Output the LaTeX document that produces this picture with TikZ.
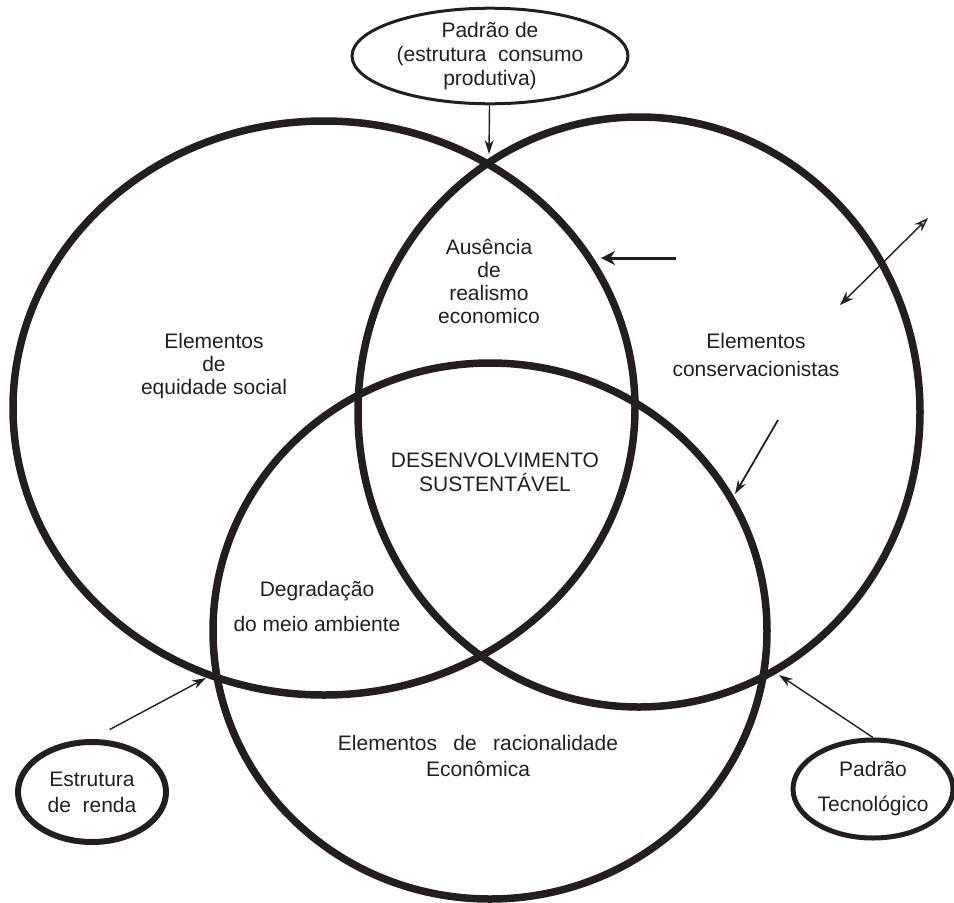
\documentclass[tikz,border=0pt]{standalone}
\usepackage{fontspec}
\setmainfont{Liberation Sans}
\usetikzlibrary{shapes.geometric,arrows.meta}
\definecolor{ink}{rgb}{0.14,0.12,0.12}

\begin{document}
\begin{tikzpicture}[
  x=1pt, y=-1pt,
  ring/.style={draw=ink, line width=7.5pt},
  bubble/.style={draw=ink, ellipse, inner sep=0pt, align=center,
    text=ink, font={\fontsize{21}{24}\selectfont}},
  txt/.style={align=center, text=ink, font={\fontsize{21}{23}\selectfont}},
  pointer/.style={draw=ink, line width=1.4pt,
    -{Stealth[length=14pt, width=9pt]}},
  ]
  \useasboundingbox (0,0) rectangle (954,903);
  % The three sets
  \draw[ring] (324,408) ellipse [x radius=311pt, y radius=287pt];
  \draw[ring] (639,412) ellipse [x radius=281pt, y radius=295pt];
  \draw[ring] (490,631) ellipse [x radius=277pt, y radius=268pt];
  % Outer factors
  \node[bubble, line width=3pt, minimum width=276pt, minimum height=94pt]
    (padrao) at (490,56) {Padrão de\\(estrutura\ \ consumo\\produtiva)};
  \node[bubble, line width=6pt, minimum width=148pt, minimum height=100pt,
    font={\fontsize{21}{26}\selectfont}]
    (renda) at (92,792) {Estrutura\\de\ \ renda};
  \node[bubble, line width=5pt, minimum width=160pt, minimum height=98pt,
    font={\fontsize{21}{35}\selectfont}]
    (tecno) at (873,789) {Padrão\\Tecnológico};
  % Labels of the regions
  \node[txt] (equidade) at (214,366) {Elementos\\de\\equidade social};
  \node[txt] (ausencia) at (489,281) {Ausência\\de\\realismo\\economico};
  \node[txt, font={\fontsize{21}{28}\selectfont}]
    (conserva) at (756,355) {Elementos\\conservacionistas};
  \node[txt, font={\fontsize{21}{24}\selectfont}]
    (desenv) at (495,472) {DESENVOLVIMENTO\\SUSTENTÁVEL};
  \node[txt, font={\fontsize{21}{35}\selectfont}]
    (degrada) at (317,606) {Degradação\\do meio ambiente};
  \node[txt, font={\fontsize{21}{26}\selectfont}]
    (racional) at (478,756)
    {Elementos\hspace{0.5em} de\hspace{0.5em} racionalidade\\Econômica};
  % Arrow ends
  \coordinate (cruz) at (489,154);
  \coordinate (rendaseta) at (206,678);
  \coordinate (tecnoseta) at (779,675);
  \coordinate (realA) at (676,258);
  \coordinate (realB) at (601,258);
  \coordinate (troca1) at (840,305);
  \coordinate (troca2) at (928,218);
  \coordinate (consA) at (778,420);
  \coordinate (consB) at (735,494);
  % Arrows
  \draw[pointer] (padrao) -- (cruz);
  \draw[pointer, shorten <=20pt] (renda.north) -- (rendaseta);
  \draw[pointer] (tecno.north) -- (tecnoseta);
  \draw[pointer, line width=3pt, -{Stealth[length=14pt, width=14pt]}]
    (realA) -- (realB);
  \draw[pointer, {Stealth[length=14pt, width=10pt]}-{Stealth[length=14pt,
      width=10pt, fill=gray!45]}] (troca1) -- (troca2);
  \draw[pointer, line width=1.8pt] (consA) -- (consB);
\end{tikzpicture}
\end{document}
